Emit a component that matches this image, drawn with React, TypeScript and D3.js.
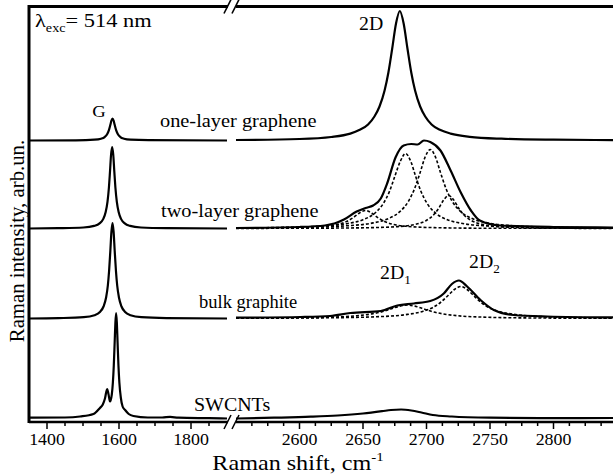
import * as d3 from 'd3';

type Pt = [number, number];

// x ranges of the two broken-axis parts, cm-1
const LOW_DOMAIN: Pt = [1350, 1900];
const HIGH_DOMAIN: Pt = [2550, 2850];
const LOW_TICKS = [1400, 1450, 1500, 1550, 1600, 1650, 1700, 1750, 1800, 1850];
const LOW_LABELS = [1400, 1600, 1800];
const HIGH_LABELS = [2600, 2650, 2700, 2750, 2800];

// vertical offsets of the stacked spectra (arb. units)
const OFFSET_ONE = 281.5;
const OFFSET_TWO = 193.5;
const OFFSET_BULK = 103.5;
const OFFSET_SWCNT = 3.5;

// one-layer graphene
const oneLow: Pt[] = [[1350,0],[1480,0.2],[1532,0.8],[1550,1.8],[1560,3.4],[1567,6.3],[1572,10.4],[1576,15.7],[1579,20],[1582,22],[1585,20],[1588,15.7],[1592,10.4],[1597,6.3],[1604,3.4],[1614,1.8],[1632,0.8],[1682,0.3],[1900,0]];
const oneHigh: Pt[] = [[2550,0.5],[2600,1.5],[2625,3.5],[2640,6.9],[2647,10.4],[2654,16],[2659,24],[2663,34],[2667,50],[2670,68],[2673,92],[2676,117],[2679,129.5],[2682,117],[2685,92],[2688,68],[2691,50],[2695,34],[2699,24],[2704,16],[2711,10.4],[2719,6.9],[2734,3.7],[2759,1.8],[2800,0.8],[2850,0.4]];

// two-layer graphene
const twoLow: Pt[] = [[1350,0],[1431,0.3],[1501,1],[1531,2.6],[1546,5.1],[1556,9.4],[1563,16.4],[1568,26.6],[1572,41],[1575,57],[1578,74],[1581,81.5],[1584,74],[1587,57],[1590,41],[1594,26.6],[1599,16.4],[1606,9.4],[1616,5.1],[1631,2.6],[1661,1],[1731,0.3],[1900,0]];
const twoHigh: Pt[] = [[2550,0.5],[2600,1.5],[2620,3],[2635,9],[2645,17],[2652,20.5],[2658,23],[2664,30],[2669,45],[2675.6,71],[2682,83],[2688,84.5],[2693,84],[2698,88],[2703,86.5],[2711,78],[2719,58],[2727,36],[2735,18],[2742,8],[2758,3],[2800,1.5],[2850,1]];
const twoFit1: Pt[] = [[2550,0.6],[2583,1],[2618,2.5],[2638,5],[2650,8.8],[2659,15],[2666,25],[2671,37.5],[2675,52],[2679.5,67.5],[2683.5,75],[2687.5,67.5],[2691.5,52],[2695.5,37.5],[2700.5,25],[2707.5,15],[2716.5,8.8],[2728.5,5],[2748.5,2.5],[2783.5,1],[2850,0.4]];
const twoFit2: Pt[] = [[2550,0.5],[2603,1.2],[2638,2.8],[2658,5.6],[2670,9.9],[2679,16.8],[2686,27.7],[2690.5,39.5],[2695,56],[2699,71.7],[2703,79],[2707,71.7],[2711,56],[2715.5,39.5],[2720,27.7],[2727,16.8],[2736,9.9],[2748,5.6],[2768,2.8],[2803,1.2],[2850,0.6]];
const twoFit3: Pt[] = [[2550,0.15],[2587,0.2],[2647.5,0.66],[2677.5,1.9],[2691.5,4.3],[2699.5,7.8],[2705.5,13.5],[2709.5,20],[2713.5,28.4],[2717.5,33],[2721.5,28.4],[2725.5,20],[2729.5,13.5],[2735.5,7.8],[2743.5,4.3],[2757.5,1.9],[2787.5,0.66],[2850,0.2]];
const twoFit4: Pt[] = [[2550,0.25],[2562,0.3],[2602,1],[2620,2.2],[2630,4.1],[2637,7],[2642,10.6],[2647,15.3],[2652,18],[2657,15.3],[2662,10.6],[2667,7],[2674,4.1],[2684,2.2],[2702,1],[2742,0.3],[2850,0.15]];

// bulk graphite
const bulkLow: Pt[] = [[1350,0],[1432,0.4],[1502,1.3],[1532,3.3],[1547,6.5],[1557,12],[1564,20.7],[1569,33],[1572.5,47.75],[1576,68],[1579,86.8],[1582,95.5],[1585,86.8],[1588,68],[1591.5,47.75],[1595,33],[1600,20.7],[1607,12],[1617,6.5],[1632,3.3],[1662,1.3],[1732,0.4],[1900,0]];
const bulkHigh: Pt[] = [[2550,0.8],[2601,1.5],[2624,2.5],[2640,5.5],[2664,7.5],[2677,13],[2690,15],[2703,17.5],[2713.6,25],[2720,34.5],[2725.5,38],[2732,32],[2742.5,18.5],[2753,8.5],[2768.5,3.5],[2795,2],[2850,1]];
const bulkFit1: Pt[] = [[2550,0.3],[2585,0.52],[2625,1.35],[2645,2.7],[2657,4.6],[2665,6.75],[2671,9.1],[2678,12],[2685,13.5],[2692,12],[2699,9.1],[2705,6.75],[2713,4.6],[2725,2.7],[2745,1.35],[2785,0.52],[2850,0.2]];
const bulkFit2: Pt[] = [[2550,0.26],[2627,0.8],[2667,2.1],[2685,4.1],[2697,7.1],[2705,11],[2711,16],[2717,23],[2722,29],[2727,32],[2732,29],[2737,23],[2743,16],[2749,11],[2757,7.1],[2769,4.1],[2787,2.1],[2827,0.8],[2850,0.55]];

// SWCNTs
const swLow: Pt[] = [[1350,0.8],[1361,0.8],[1450,1],[1492,2],[1529,4.5],[1547,10.5],[1555,14],[1561,20],[1567,29.5],[1571,24],[1575,17],[1580,24],[1583,36],[1585.5,52.7],[1588,76.5],[1590,96],[1592,105.5],[1594,96],[1596,76.5],[1598.5,52.7],[1601,36],[1605,21],[1610,12],[1617,8.5],[1627,4.5],[1640,2.5],[1680,1],[1720,1],[1742,1.6],[1765,0.8],[1850,0.3],[1900,0]];
const swHigh: Pt[] = [[2550,0],[2580,0.8],[2609,1.8],[2630,3],[2650,5],[2665,7.3],[2672,8.5],[2680,9],[2688,8],[2696,6],[2705,3.5],[2720,2],[2750,0.8],[2800,0.3],[2850,0.5]];

const W = 613;
const H = 476;
const LEFT = 29;
const TOP = 6.5;
const BOTTOM = 422;
const BREAK_L = 228;
const BREAK_R = 236;

const xLow = d3.scaleLinear().domain(LOW_DOMAIN).range([LEFT, 227]);
const xHigh = d3.scaleLinear().domain(HIGH_DOMAIN).range([236, 617]);
const y = d3.scaleLinear().domain([0, 415.5]).range([BOTTOM, TOP]);

const highTicks = d3.range(2562.5, 2850, 12.5);

function path(data: Pt[], x: d3.ScaleLinear<number, number>, offset: number) {
  const line = d3.line<Pt>()
    .x((d) => x(d[0]))
    .y((d) => y(d[1] + offset))
    .curve(d3.curveMonotoneX);
  return line(data) || '';
}

const FONT = '"Liberation Serif", "Times New Roman", serif';

// the original lettering is a little wider than Times, so stretch it
const at = (x: number, y: number, sx = 1.1) => `translate(${x},${y}) scale(${sx},1)`;

export default function App() {
  const solid = [
    [oneLow, oneHigh, OFFSET_ONE],
    [twoLow, twoHigh, OFFSET_TWO],
    [bulkLow, bulkHigh, OFFSET_BULK],
    [swLow, swHigh, OFFSET_SWCNT],
  ] as [Pt[], Pt[], number][];
  const fits = [
    [twoFit1, OFFSET_TWO], [twoFit2, OFFSET_TWO], [twoFit3, OFFSET_TWO], [twoFit4, OFFSET_TWO],
    [bulkFit1, OFFSET_BULK], [bulkFit2, OFFSET_BULK],
  ] as [Pt[], number][];

  return (
    <svg width={W} height={H} style={{position: 'absolute', left: 0, top: 0, background: '#fff'}}
      fontFamily={FONT}>
      <rect width={W} height={H} fill="#fff" />

      {/* dashed fitted components */}
      {fits.map(([d, off], i) => (
        <path key={'f' + i} d={path(d, xHigh, off)} fill="none" stroke="#000"
          strokeWidth={1.6} strokeDasharray="3,2" />
      ))}

      {/* spectra */}
      {solid.map(([lo, hi, off], i) => (
        <g key={'s' + i} fill="none" stroke="#000" strokeWidth={2.2} strokeLinejoin="round">
          <path d={path(lo, xLow, off)} />
          <path d={path(hi, xHigh, off)} />
        </g>
      ))}

      {/* frame */}
      <g stroke="#000" strokeWidth={3}>
        <line x1={LEFT} x2={LEFT} y1={TOP - 1.5} y2={BOTTOM + 1} />
        <line x1={LEFT} x2={BREAK_L} y1={TOP} y2={TOP} />
        <line x1={BREAK_R} x2={W} y1={TOP} y2={TOP} />
        <line x1={LEFT} x2={BREAK_L} y1={BOTTOM} y2={BOTTOM} strokeWidth={2.5} />
        <line x1={BREAK_R} x2={W} y1={BOTTOM} y2={BOTTOM} strokeWidth={2.5} />
      </g>
      {/* break marks */}
      <g stroke="#000" strokeWidth={1.6}>
        <line x1={224} y1={TOP + 7} x2={231} y2={TOP - 7} />
        <line x1={232} y1={TOP + 7} x2={239} y2={TOP - 7} />
        <line x1={224} y1={BOTTOM + 7} x2={231} y2={BOTTOM - 7} />
        <line x1={232} y1={BOTTOM + 7} x2={239} y2={BOTTOM - 7} />
      </g>

      {/* ticks */}
      <g stroke="#000" strokeWidth={1.5}>
        {LOW_TICKS.map((t) => (
          <line key={'lt' + t} x1={xLow(t)} x2={xLow(t)} y1={BOTTOM}
            y2={BOTTOM + (LOW_LABELS.includes(t) ? 7 : 4)} />
        ))}
        {highTicks.map((t) => (
          <line key={'ht' + t} x1={xHigh(t)} x2={xHigh(t)} y1={BOTTOM}
            y2={BOTTOM + (t % 50 === 0 ? 7 : 4)} />
        ))}
      </g>
      <g fontSize={17} textAnchor="middle" fill="#000">
        {LOW_LABELS.map((t) => (
          <text key={'ll' + t} transform={at(xLow(t), 445, 1.05)}>{t}</text>
        ))}
        {HIGH_LABELS.map((t) => (
          <text key={'hl' + t} transform={at(xHigh(t), 445, 1.05)}>{t}</text>
        ))}
      </g>

      {/* axis titles */}
      <text transform={at(298, 470, 1.15)} fontSize={21} textAnchor="middle">
        Raman shift, cm<tspan dy={-9} fontSize={13}>-1</tspan>
      </text>
      <text transform="translate(24,241) rotate(-90) scale(1.04,1)" fontSize={20} textAnchor="middle">
        Raman intensity, arb.un.
      </text>

      {/* annotations */}
      <text transform={at(35, 27, 1.18)} fontSize={19}>
        λ<tspan dy={5} fontSize={12}>exc</tspan><tspan dy={-5}>= 514 nm</tspan>
      </text>
      <text transform={at(99, 117)} fontSize={17} textAnchor="middle">G</text>
      <text transform={at(359, 30)} fontSize={18}>2D</text>
      <text transform={at(380, 279)} fontSize={18}>2D<tspan dy={5} fontSize={12}>1</tspan></text>
      <text transform={at(469, 268)} fontSize={18}>2D<tspan dy={5} fontSize={12}>2</tspan></text>

      <text transform={at(160, 127)} fontSize={18.5}>one-layer graphene</text>
      <text transform={at(161, 217)} fontSize={18.5}>two-layer graphene</text>
      <text transform={at(199, 308, 1.0)} fontSize={18.5}>bulk graphite</text>
      <text transform={at(194, 410.5, 1.05)} fontSize={19}>SWCNTs</text>
    </svg>
  );
}
